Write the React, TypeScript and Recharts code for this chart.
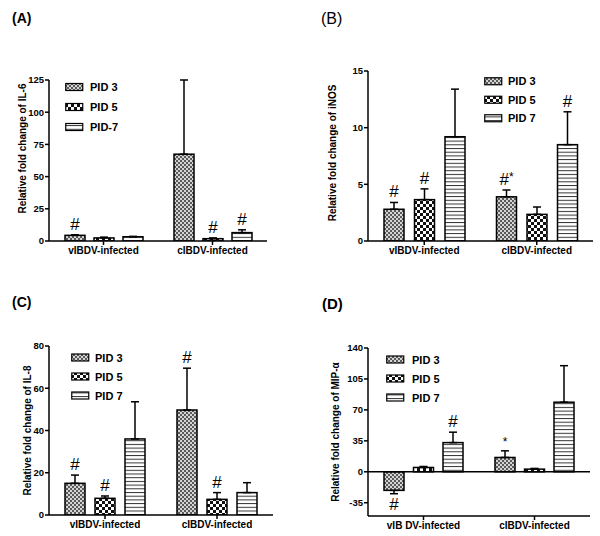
import React from 'react';
import { BarChart, Bar, XAxis, YAxis, ErrorBar, Legend, ReferenceLine } from 'recharts';

const FONT = '"Liberation Sans", Arial, sans-serif';

// ---------- categories & series names ----------
const categories = ['vIBDV-infected', 'cIBDV-infected'];
const categoriesD = ['vIB DV-infected', 'cIBDV-infected'];
const namesA = ['PID 3', 'PID 5', 'PID-7'];
const namesStd = ['PID 3', 'PID 5', 'PID 7'];

// ---------- (A) IL-6 ----------
const il6Pid3 = [4.4, 67.4];
const il6Pid3Err = [0.4, 57.6];
const il6Pid3Ann = ['#', ''];
const il6Pid5 = [2.4, 1.8];
const il6Pid5Err = [0.6, 0.6];
const il6Pid5Ann = ['', '#'];
const il6Pid7 = [3.3, 6.5];
const il6Pid7Err = [0.3, 2.2];
const il6Pid7Ann = ['', '#'];
const il6Ticks = [0, 25, 50, 75, 100, 125];

// ---------- (B) iNOS ----------
const inosPid3 = [2.8, 3.9];
const inosPid3Err = [0.6, 0.6];
const inosPid3Ann = ['#', '#*'];
const inosPid5 = [3.65, 2.35];
const inosPid5Err = [0.95, 0.65];
const inosPid5Ann = ['#', ''];
const inosPid7 = [9.2, 8.5];
const inosPid7Err = [4.2, 2.9];
const inosPid7Ann = ['', '#'];
const inosTicks = [0, 5, 10, 15];

// ---------- (C) IL-8 ----------
const il8Pid3 = [15, 49.7];
const il8Pid3Err = [3.9, 19.8];
const il8Pid3Ann = ['#', '#'];
const il8Pid5 = [7.9, 7.4];
const il8Pid5Err = [1.1, 3.2];
const il8Pid5Ann = ['#', '#'];
const il8Pid7 = [36, 10.6];
const il8Pid7Err = [17.6, 4.7];
const il8Pid7Ann = ['', ''];
const il8Ticks = [0, 20, 40, 60, 80];

// ---------- (D) MIP-α ----------
const mipPid3 = [-21, 16.2];
const mipPid3Err = [3.8, 7.5];
const mipPid3Ann = ['#', '*'];
const mipPid5 = [4.9, 3];
const mipPid5Err = [1.1, 0.8];
const mipPid5Ann = ['', ''];
const mipPid7 = [33, 78.7];
const mipPid7Err = [11.8, 41.3];
const mipPid7Ann = ['#', ''];
const mipTicks = [-35, 0, 35, 70, 105, 140];

const errPair = (v: number, e: number) => (v >= 0 ? [0, e] : [e, 0]);

function buildRows(
  cats: string[],
  v3: number[], e3: number[], a3: string[],
  v5: number[], e5: number[], a5: string[],
  v7: number[], e7: number[], a7: string[]
) {
  return cats.map((name, i) => ({
    name,
    v3: v3[i], e3: e3[i], r3: errPair(v3[i], e3[i]), a3: a3[i],
    v5: v5[i], e5: e5[i], r5: errPair(v5[i], e5[i]), a5: a5[i],
    v7: v7[i], e7: e7[i], r7: errPair(v7[i], e7[i]), a7: a7[i],
  }));
}

const rowsA = buildRows(categories, il6Pid3, il6Pid3Err, il6Pid3Ann, il6Pid5, il6Pid5Err, il6Pid5Ann, il6Pid7, il6Pid7Err, il6Pid7Ann);
const rowsB = buildRows(categories, inosPid3, inosPid3Err, inosPid3Ann, inosPid5, inosPid5Err, inosPid5Ann, inosPid7, inosPid7Err, inosPid7Ann);
const rowsC = buildRows(categories, il8Pid3, il8Pid3Err, il8Pid3Ann, il8Pid5, il8Pid5Err, il8Pid5Ann, il8Pid7, il8Pid7Err, il8Pid7Ann);
const rowsD = buildRows(categoriesD, mipPid3, mipPid3Err, mipPid3Ann, mipPid5, mipPid5Err, mipPid5Ann, mipPid7, mipPid7Err, mipPid7Ann);

const patternIds = ['pat3', 'pat5', 'pat7'];

const AnnText = ({ x, y, text }: { x: number; y: number; text: string }) => (
  <text x={x} y={y} textAnchor="middle" fontFamily={FONT} fill="#000">
    {text.split('').map((ch, i) =>
      ch === '*' ? (
        <tspan key={i} fontSize={12} dy={i > 0 ? -4 : 0}>*</tspan>
      ) : (
        <tspan key={i} fontSize={17}>{ch}</tspan>
      )
    )}
  </text>
);

const makeShape = (vKey: string, eKey: string, aKey: string) => (props: any) => {
  const { x, y, width, height, fill, payload } = props;
  const v = payload[vKey] as number;
  const e = payload[eKey] as number;
  const ann = payload[aKey] as string;
  const h = Number(height) || 0;
  const top = Math.min(y, y + h);
  const bottom = Math.max(y, y + h);
  const ppu = v !== 0 ? Math.abs(h) / Math.abs(v) : 0;
  let label = null;
  if (ann) {
    const cx = x + width / 2;
    if (v >= 0) {
      label = <AnnText x={cx} y={top - e * ppu - 5} text={ann} />;
    } else {
      label = <AnnText x={cx} y={bottom + e * ppu + 16} text={ann} />;
    }
  }
  return (
    <g>
      <rect x={x} y={top} width={width} height={bottom - top} fill={fill} stroke="#000" strokeWidth={1.5} />
      {label}
    </g>
  );
};

const shape3 = makeShape('v3', 'e3', 'a3');
const shape5 = makeShape('v5', 'e5', 'a5');
const shape7 = makeShape('v7', 'e7', 'a7');

const LegendBox = ({ names, gap, textX }: { names: string[]; gap: number; textX: number }) => (
  <svg width={90} height={gap * 3} style={{ display: 'block' }}>
    {names.map((n, i) => {
      const cy = gap / 2 + i * gap;
      return (
        <g key={i}>
          <rect x={0.75} y={cy - 3.5} width={17} height={7} fill={`url(#${patternIds[i]})`} stroke="#000" strokeWidth={1.2} />
          <text x={textX} y={cy} dominantBaseline="central" fontSize={11} fontWeight="bold" fontFamily={FONT} fill="#000">
            {n}
          </text>
        </g>
      );
    })}
  </svg>
);

const yLabelContent = (text: string, dx: number, dy: number) => (props: any) => {
  const vb = props.viewBox || { x: 0, y: 0, width: 0, height: 0 };
  const cx = vb.x + dx;
  const cy = vb.y + vb.height / 2 + dy;
  return (
    <text
      x={cx}
      y={cy}
      transform={`rotate(-90 ${cx} ${cy})`}
      textAnchor="middle"
      dominantBaseline="central"
      fontSize={10}
      fontWeight="bold"
      fontFamily={FONT}
      fill="#000"
    >
      {text}
    </text>
  );
};

type PanelProps = {
  left: number;
  top: number;
  width: number;
  height: number;
  margin: { top: number; right: number; bottom: number; left: number };
  rows: any[];
  domain: [number, number];
  ticks: number[];
  names: string[];
  yLabel: string;
  yLabelDx: number;
  yLabelDy: number;
  legendX: number;
  legendY: number;
  legendGap: number;
  legendTextX: number;
  barGap: number;
  zeroLine?: boolean;
};

const Panel = (p: PanelProps) => (
  <div style={{ position: 'absolute', left: p.left, top: p.top, width: p.width, height: p.height }}>
    <BarChart width={p.width} height={p.height} data={p.rows} margin={p.margin} barSize={20} barGap={p.barGap}>
      <XAxis
        dataKey="name"
        interval={0}
        height={20}
        tickSize={4}
        axisLine={{ stroke: '#000', strokeWidth: 1.5 }}
        tickLine={{ stroke: '#000', strokeWidth: 1.5 }}
        tick={{ fill: '#000', fontSize: 10, fontWeight: 'bold', fontFamily: FONT }}
      />
      <YAxis
        type="number"
        domain={p.domain}
        ticks={p.ticks}
        interval={0}
        width={30}
        tickSize={4}
        tickMargin={1}
        allowDataOverflow
        axisLine={{ stroke: '#000', strokeWidth: 1.5 }}
        tickLine={{ stroke: '#000', strokeWidth: 1.5 }}
        tick={{ fill: '#000', fontSize: 9.5, fontWeight: 'bold', fontFamily: FONT }}
        label={{ content: yLabelContent(p.yLabel, p.yLabelDx, p.yLabelDy) } as any}
      />
      {p.zeroLine && <ReferenceLine y={0} stroke="#000" strokeWidth={1.5} />}
      <Bar dataKey="v3" name={p.names[0]} fill={`url(#${patternIds[0]})`} shape={shape3} isAnimationActive={false}>
        <ErrorBar dataKey="r3" width={4} stroke="#000" strokeWidth={1.5} direction="y" />
      </Bar>
      <Bar dataKey="v5" name={p.names[1]} fill={`url(#${patternIds[1]})`} shape={shape5} isAnimationActive={false}>
        <ErrorBar dataKey="r5" width={4} stroke="#000" strokeWidth={1.5} direction="y" />
      </Bar>
      <Bar dataKey="v7" name={p.names[2]} fill={`url(#${patternIds[2]})`} shape={shape7} isAnimationActive={false}>
        <ErrorBar dataKey="r7" width={4} stroke="#000" strokeWidth={1.5} direction="y" />
      </Bar>
      <Legend
        layout="vertical"
        align="center"
        verticalAlign="middle"
        wrapperStyle={{ left: p.legendX, top: p.legendY, width: 90, height: p.legendGap * 3 }}
        content={() => <LegendBox names={p.names} gap={p.legendGap} textX={p.legendTextX} />}
      />
    </BarChart>
  </div>
);

export default function App() {
  return (
    <div style={{ position: 'absolute', left: 0, top: 0, width: 600, height: 536, background: '#fff', overflow: 'hidden' }}>
      <svg width={0} height={0} style={{ position: 'absolute' }}>
        <defs>
          <pattern id="pat3" width={4} height={4} patternUnits="userSpaceOnUse">
            <rect width={4} height={4} fill="#d4d4d4" />
            <rect width={2} height={2} fill="#5a5a5a" />
            <rect x={2} y={2} width={2} height={2} fill="#5a5a5a" />
          </pattern>
          <pattern id="pat5" width={6} height={6} patternUnits="userSpaceOnUse">
            <rect width={6} height={6} fill="#111" />
            <rect width={3} height={3} fill="#fff" />
            <rect x={3} y={3} width={3} height={3} fill="#fff" />
          </pattern>
          <pattern id="pat7" width={4} height={3.7} patternUnits="userSpaceOnUse">
            <rect width={4} height={3.7} fill="#fff" />
            <rect width={4} height={1} fill="#333" />
          </pattern>
        </defs>
      </svg>

      <Panel
        left={0} top={0} width={300} height={268}
        margin={{ top: 80, right: 33, bottom: 7, left: 19 }}
        rows={rowsA} domain={[0, 125]} ticks={il6Ticks} names={namesA}
        yLabel="Relative fold change of IL-6" yLabelDx={3} yLabelDy={-12}
        legendX={65} legendY={77} legendGap={20} legendTextX={25} barGap={9}
      />
      <Panel
        left={300} top={0} width={300} height={268}
        margin={{ top: 71, right: 7, bottom: 7, left: 38 }}
        rows={rowsB} domain={[0, 15]} ticks={inosTicks} names={namesStd}
        yLabel="Relative fold change of iNOS" yLabelDx={-6} yLabelDy={-3}
        legendX={184} legendY={71.75} legendGap={18.5} legendTextX={24} barGap={10.5}
      />
      <Panel
        left={0} top={270} width={300} height={266}
        margin={{ top: 76, right: 27, bottom: 1, left: 19 }}
        rows={rowsC} domain={[0, 80]} ticks={il8Ticks} names={namesStd}
        yLabel="Relative fold change of IL-8" yLabelDx={8} yLabelDy={0}
        legendX={71} legendY={77.5} legendGap={19} legendTextX={24} barGap={10}
      />
      <Panel
        left={300} top={270} width={300} height={266}
        margin={{ top: 78, right: 10, bottom: 0, left: 38 }}
        rows={rowsD} domain={[-50, 140]} ticks={mipTicks} names={namesStd}
        yLabel="Relative fold change of MIP-α" yLabelDx={-3} yLabelDy={0}
        legendX={86} legendY={79.5} legendGap={19} legendTextX={26} barGap={9.5} zeroLine
      />

      <svg width={600} height={536} style={{ position: 'absolute', left: 0, top: 0, pointerEvents: 'none' }}>
        <text x={12} y={23} fontSize={14} fontWeight="bold" fontFamily={FONT} fill="#000">(A)</text>
        <text x={321} y={24} fontSize={16} fontFamily={FONT} fill="#000">(B)</text>
        <text x={12} y={307} fontSize={14} fontWeight="bold" fontFamily={FONT} fill="#000">(C)</text>
        <text x={322} y={309} fontSize={15} fontWeight="bold" fontFamily={FONT} fill="#000">(D)</text>
      </svg>
    </div>
  );
}
